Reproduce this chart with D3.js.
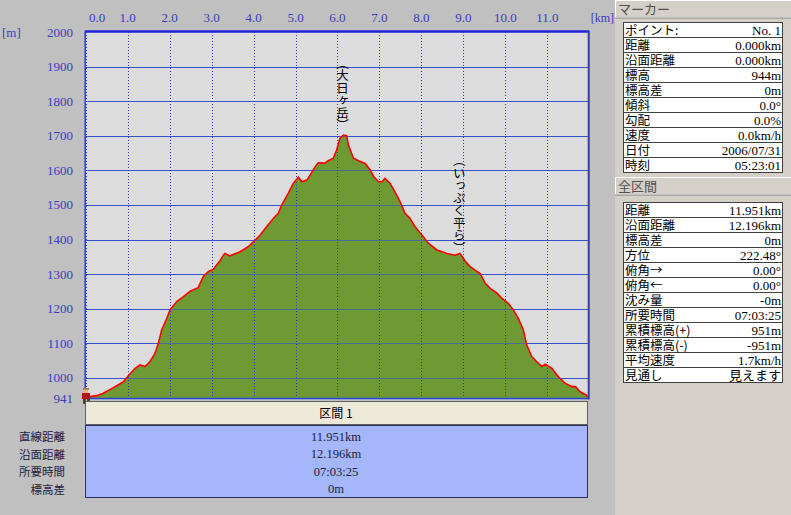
<!DOCTYPE html>
<html><head><meta charset="utf-8">
<script src="https://cdn.jsdelivr.net/npm/d3@7"></script>
<style>
html,body{margin:0;padding:0;background:#c0c0c0;}
svg{display:block;}
text{font-family:"Liberation Serif","Noto Sans CJK JP",serif;}
.jp{font-family:"Noto Sans CJK JP","Noto Sans",sans-serif;}
</style></head>
<body>
<svg id="c" width="791" height="515"></svg>
<script>
// ---- data ----
const distanceKm = [0,0.26,0.42,0.66,0.90,1.02,1.18,1.29,1.41,1.53,1.65,1.73,1.81,1.93,2.01,2.17,2.33,2.49,2.68,2.80,2.92,3.04,3.20,3.28,3.32,3.44,3.68,3.88,4.00,4.16,4.31,4.47,4.59,4.67,4.83,4.95,5.07,5.15,5.27,5.35,5.47,5.54,5.70,5.78,5.90,5.98,6.06,6.14,6.22,6.26,6.38,6.50,6.66,6.78,6.86,6.98,7.06,7.13,7.25,7.37,7.49,7.61,7.73,7.85,8.01,8.17,8.37,8.61,8.80,8.92,9.04,9.16,9.28,9.40,9.52,9.64,9.80,9.92,10.07,10.19,10.31,10.43,10.51,10.63,10.75,10.87,10.95,11.11,11.26,11.42,11.59,11.67,11.78,11.94,11.951];
const elevationM = [944,949,956,972,989,1007,1028,1038,1033,1047,1071,1100,1139,1172,1197,1221,1235,1251,1261,1293,1307,1314,1339,1355,1360,1353,1365,1380,1394,1413,1437,1461,1476,1500,1534,1563,1580,1567,1572,1587,1611,1622,1621,1628,1635,1659,1693,1702,1700,1673,1635,1628,1620,1601,1582,1567,1567,1577,1563,1538,1510,1476,1461,1437,1413,1389,1370,1360,1355,1360,1338,1322,1312,1302,1274,1259,1245,1230,1216,1197,1172,1139,1095,1062,1047,1033,1040,1028,1004,985,975,975,960,950,944];
const xTickValues = [0,1,2,3,4,5,6,7,8,9,10,11];
const xTickLabels = ["0.0","1.0","2.0","3.0","4.0","5.0","6.0","7.0","8.0","9.0","10.0","11.0"];
const yTickValues = [941,1000,1100,1200,1300,1400,1500,1600,1700,1800,1900,2000];
const yTickLabels = ["941","1000","1100","1200","1300","1400","1500","1600","1700","1800","1900","2000"];
const placeNames = ["（大日ヶ岳）","（いっぷく平ら）"];
const placeKm = [6.12, 8.90];
const placeTopM = [1928, 1647];
const markerLabels = ["ポイント:","距離","沿面距離","標高","標高差","傾斜","勾配","速度","日付","時刻"];
const markerValues = ["No. 1","0.000km","0.000km","944m","0m","0.0°","0.0%","0.0km/h","2006/07/31","05:23:01"];
const totalLabels = ["距離","沿面距離","標高差","方位","俯角→","俯角←","沈み量","所要時間","累積標高(+)","累積標高(-)","平均速度","見通し"];
const totalValues = ["11.951km","12.196km","0m","222.48°","0.00°","0.00°","-0m","07:03:25","951m","-951m","1.7km/h","見えます"];
const sectionTitle = "区間 1";
const sectionLabels = ["直線距離","沿面距離","所要時間","標高差"];
const sectionValues = ["11.951km","12.196km","07:03:25","0m"];

// ---- chart ----
const svg = d3.select("#c");
const L = 85.7, R = 588.2, T = 32, B = 398.4;
const x = d3.scaleLinear().domain([0, 11.975]).range([L, R]);
const y = d3.scaleLinear().domain([941, 2000]).range([B, T]);
const axisBlue = "#3b3bbf";

// right panel background first
svg.append("rect").attr("x",615).attr("y",0).attr("width",176).attr("height",515).attr("fill","#d4d0c8");

svg.append("rect").attr("x",L).attr("y",T).attr("width",R-L).attr("height",B-T).attr("fill","#dcdcdc");

// horizontal grid
svg.append("g").selectAll("line").data(yTickValues.filter(v=>v>941 && v<2000)).join("line")
  .attr("x1",L).attr("x2",R).attr("y1",d=>Math.round(y(d))+0.5).attr("y2",d=>Math.round(y(d))+0.5)
  .attr("stroke","#2a46e0").attr("stroke-width",1);

// area + line
const area = d3.area().x((d,i)=>x(distanceKm[i])).y0(B).y1(d=>y(d));
const line = d3.line().x((d,i)=>x(distanceKm[i])).y(d=>y(d));
svg.append("path").datum(elevationM).attr("d",area).attr("fill","#6d9a32");
svg.append("g").selectAll("line").data(yTickValues.filter(v=>v>941 && v<2000)).join("line")
  .attr("x1",L).attr("x2",R).attr("y1",d=>Math.round(y(d))+0.5).attr("y2",d=>Math.round(y(d))+0.5)
  .attr("stroke","#3a55c8").attr("stroke-opacity",0.7).attr("stroke-width",1);
// vertical dotted grid
svg.append("g").selectAll("line").data(xTickValues).join("line")
  .attr("x1",d=>Math.round(x(d))+0.5).attr("x2",d=>Math.round(x(d))+0.5).attr("y1",T).attr("y2",B)
  .attr("stroke","#2c3cc8").attr("stroke-dasharray","1,2").attr("stroke-width",1);
svg.append("path").datum(elevationM).attr("d",line).attr("fill","none").attr("stroke","#ff0000").attr("stroke-width",1.6);

// borders
svg.append("line").attr("x1",L-1).attr("x2",R+1).attr("y1",T-0.5).attr("y2",T-0.5).attr("stroke","#2222dd").attr("stroke-width",2.5);
svg.append("line").attr("x1",R+0.5).attr("x2",R+0.5).attr("y1",T-1).attr("y2",B+1).attr("stroke","#3a3aa8").attr("stroke-width",2);
svg.append("line").attr("x1",L-0.5).attr("x2",L-0.5).attr("y1",T).attr("y2",B).attr("stroke","#2a3ae0").attr("stroke-width",1.5);
svg.append("line").attr("x1",L).attr("x2",R).attr("y1",B).attr("y2",B).attr("stroke","#2a46e0").attr("stroke-width",1.5);

// axes
svg.append("g").selectAll("text").data(xTickValues).join("text")
  .attr("x",(d,i)=> i===0 ? x(d)+11.5 : x(d)).attr("y",21.5).attr("text-anchor","middle")
  .attr("font-size",13).attr("fill",axisBlue).text((d,i)=>xTickLabels[i]);
svg.append("text").attr("x",614).attr("y",21.5).attr("text-anchor","end").attr("font-size",12).attr("fill",axisBlue).text("[km]");
svg.append("g").selectAll("text").data(yTickValues).join("text")
  .attr("x",73).attr("y",d=>y(d)+4.5).attr("text-anchor","end")
  .attr("font-size",13).attr("fill",axisBlue).text((d,i)=>yTickLabels[i]);
svg.append("text").attr("x",2).attr("y",37).attr("font-size",13).attr("fill",axisBlue).text("[m]");

// place labels (vertical)
svg.append("g").selectAll("text").data(placeNames).join("text")
  .attr("class","jp")
  .attr("x",(d,i)=>x(placeKm[i])).attr("y",(d,i)=>y(placeTopM[i]))
  .attr("font-size",12.5).attr("fill","#000")
  .style("writing-mode","vertical-rl")
  .text(d=>d);

// hiker icon
const hk = svg.append("g").attr("transform","translate(80,388)");
hk.append("rect").attr("x",3).attr("y",0).attr("width",6).attr("height",2).attr("fill","#b08050");
hk.append("rect").attr("x",4).attr("y",2).attr("width",4).attr("height",3).attr("fill","#e8b080");
hk.append("rect").attr("x",2).attr("y",5).attr("width",8).attr("height",6).attr("fill","#b01818");
hk.append("rect").attr("x",3).attr("y",11).attr("width",3).attr("height",5).attr("fill","#504030");
hk.append("rect").attr("x",7).attr("y",11).attr("width",3).attr("height",5).attr("fill","#504030");

// ---- bottom section table ----
svg.append("rect").attr("x",85.5).attr("y",401.5).attr("width",502).attr("height",23).attr("fill","#ece9d8").attr("stroke","#606060");
svg.append("text").attr("class","jp").attr("x",336).attr("y",418).attr("text-anchor","middle").attr("font-size",12).attr("fill","#000").text(sectionTitle);
svg.append("rect").attr("x",85.5).attr("y",425.5).attr("width",502).attr("height",72).attr("fill","#a6b6fa").attr("stroke","#303060");
svg.append("g").selectAll("text").data(sectionValues).join("text")
  .attr("x",336).attr("y",(d,i)=>440.5+i*17.5).attr("text-anchor","middle").attr("font-size",12.5).attr("fill","#202040").text(d=>d);
svg.append("g").selectAll("text").data(sectionLabels).join("text")
  .attr("class","jp").attr("x",65).attr("y",(d,i)=>441+i*17.5).attr("text-anchor","end").attr("font-size",11.5).attr("fill","#202040").text(d=>d);

// ---- right panel ----
function header(yTop, label){
  svg.append("rect").attr("x",615.5).attr("y",yTop+0.5).attr("width",180).attr("height",17).attr("fill","#d4d0c8").attr("stroke","#ffffff");
  svg.append("line").attr("x1",615).attr("x2",791).attr("y1",yTop+18).attr("y2",yTop+18).attr("stroke","#808080");
  svg.append("text").attr("class","jp").attr("x",618).attr("y",yTop+14).attr("font-size",13).attr("fill","#505050").text(label);
}
function table(yTop, labels, values){
  const g = svg.append("g");
  const h = 15;
  g.append("rect").attr("x",623.5).attr("y",yTop+0.5).attr("width",159).attr("height",labels.length*h).attr("fill","#ffffff").attr("stroke","#404040");
  g.selectAll("line").data(labels.slice(1)).join("line")
    .attr("x1",623.5).attr("x2",782.5).attr("y1",(d,i)=>yTop+0.5+(i+1)*h).attr("y2",(d,i)=>yTop+0.5+(i+1)*h).attr("stroke","#404040");
  g.selectAll("text.l").data(labels).join("text").attr("class","jp l")
    .attr("x",625).attr("y",(d,i)=>yTop+12.5+i*h).attr("font-size",12.5).attr("fill","#000").text(d=>d);
  g.selectAll("text.v").data(values).join("text").attr("class","v")
    .attr("x",781).attr("y",(d,i)=>yTop+12.5+i*h).attr("text-anchor","end").attr("font-size",13).attr("fill","#000").text(d=>d);
}
header(0, "マーカー");
table(22, markerLabels, markerValues);
header(177, "全区間");
table(202, totalLabels, totalValues);
</script>
</body></html>
